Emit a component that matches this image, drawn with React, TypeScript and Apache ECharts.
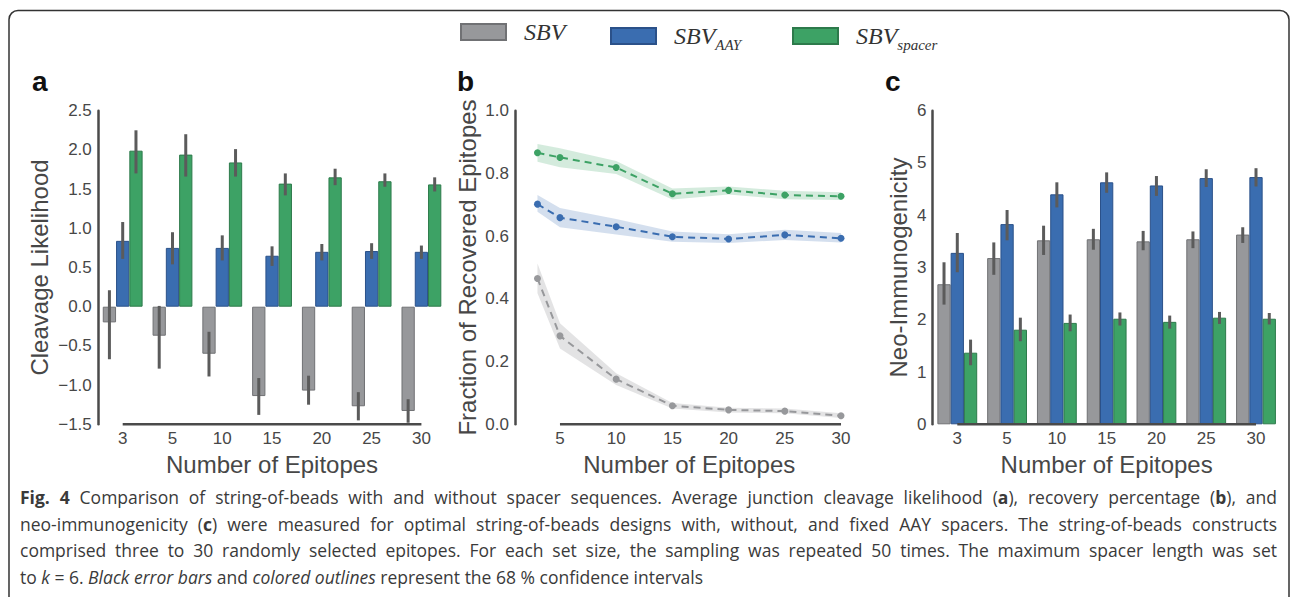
import React, { useEffect, useRef } from 'react';
import * as echarts from 'echarts';

// ---------- data ----------
const categories = ['3', '5', '10', '15', '20', '25', '30'];
const epitopeCounts = [3, 5, 10, 15, 20, 25, 30];
const seriesNames = ['SBV', 'SBV_AAY', 'SBV_spacer'];

// panel a: cleavage likelihood
const cleavSBV = [-0.20, -0.37, -0.60, -1.14, -1.07, -1.27, -1.33];
const cleavSBVLo = [-0.67, -0.79, -0.89, -1.38, -1.25, -1.45, -1.48];
const cleavSBVHi = [0.21, 0.01, -0.32, -0.91, -0.88, -1.09, -1.18];
const cleavAAY = [0.84, 0.75, 0.75, 0.65, 0.70, 0.71, 0.70];
const cleavAAYLo = [0.61, 0.54, 0.59, 0.52, 0.59, 0.61, 0.61];
const cleavAAYHi = [1.08, 0.95, 0.91, 0.77, 0.80, 0.81, 0.78];
const cleavSpacer = [1.99, 1.94, 1.84, 1.57, 1.65, 1.60, 1.56];
const cleavSpacerLo = [1.70, 1.66, 1.66, 1.42, 1.55, 1.53, 1.47];
const cleavSpacerHi = [2.25, 2.20, 2.01, 1.70, 1.76, 1.70, 1.65];

// panel b: fraction of recovered epitopes
const recSBV = [0.465, 0.282, 0.144, 0.059, 0.046, 0.042, 0.027];
const recSBVLo = [0.418, 0.242, 0.125, 0.050, 0.038, 0.035, 0.020];
const recSBVHi = [0.513, 0.322, 0.163, 0.068, 0.053, 0.050, 0.035];
const recAAY = [0.702, 0.659, 0.630, 0.598, 0.591, 0.604, 0.593];
const recAAYLo = [0.678, 0.628, 0.605, 0.582, 0.578, 0.588, 0.580];
const recAAYHi = [0.731, 0.690, 0.655, 0.615, 0.606, 0.620, 0.610];
const recSpacer = [0.866, 0.851, 0.819, 0.735, 0.746, 0.731, 0.727];
const recSpacerLo = [0.837, 0.820, 0.798, 0.717, 0.733, 0.718, 0.715];
const recSpacerHi = [0.894, 0.880, 0.840, 0.752, 0.758, 0.745, 0.740];

// panel c: neo-immunogenicity
const immSBV = [2.68, 3.18, 3.52, 3.54, 3.50, 3.54, 3.63];
const immSBVLo = [2.29, 2.86, 3.24, 3.34, 3.33, 3.37, 3.47];
const immSBVHi = [3.10, 3.48, 3.80, 3.74, 3.70, 3.69, 3.77];
const immAAY = [3.28, 3.83, 4.40, 4.63, 4.57, 4.71, 4.73];
const immAAYLo = [2.91, 3.52, 4.15, 4.43, 4.37, 4.54, 4.55];
const immAAYHi = [3.66, 4.10, 4.63, 4.82, 4.75, 4.88, 4.90];
const immSpacer = [1.37, 1.81, 1.94, 2.02, 1.96, 2.04, 2.02];
const immSpacerLo = [1.13, 1.59, 1.78, 1.89, 1.83, 1.92, 1.91];
const immSpacerHi = [1.62, 2.04, 2.10, 2.14, 2.08, 2.15, 2.13];

const captionLines = [
  '{b|Fig. 4} Comparison of string-of-beads with and without spacer sequences. Average junction cleavage likelihood ({b|a}), recovery percentage ({b|b}), and',
  'neo-immunogenicity ({b|c}) were measured for optimal string-of-beads designs with, without, and fixed AAY spacers. The string-of-beads constructs',
  'comprised three to 30 randomly selected epitopes. For each set size, the sampling was repeated 50 times. The maximum spacer length was set',
  'to {i|k} = 6. {i|Black error bars} and {i|colored outlines} represent the 68 % confidence intervals',
];
const captionJustified = [true, true, true, false];

// ---------- styles ----------
const GRAY = '#97989b';
const GRAY_EDGE = '#707174';
const BLUE = '#3a6db0';
const BLUE_EDGE = '#2b5189';
const GREEN = '#3da265';
const GREEN_EDGE = '#2d7a4b';
const AXIS = '#4a4a4a';
const LABEL = '#474747';
const ERR = '#5b5b5b';
const SANS = 'Liberation Sans, Arial, sans-serif';
const CAP_FAMILY = 'Open Sans';
const CAP_SIZE = 17.5;
const CAP_LEFT = 20;
const CAP_RIGHT = 1277;

const fills = [GRAY, BLUE, GREEN];
const edges = [GRAY_EDGE, BLUE_EDGE, GREEN_EDGE];

const GRID_TOP = 110.7;
const GRID_H = 313.6;
const GRID_W = 348.5;

function barSeries(idx: number, axis: number, data: number[]) {
  return {
    type: 'bar',
    name: seriesNames[idx],
    xAxisIndex: axis,
    yAxisIndex: axis,
    data,
    barGap: '0%',
    barCategoryGap: '20%',
    itemStyle: { color: fills[idx], borderColor: edges[idx], borderWidth: 1 },
    z: 2,
  };
}

function errSeries(idx: number, axis: number, lo: number[], hi: number[]) {
  const offset = idx - 1;
  return {
    type: 'custom',
    name: seriesNames[idx],
    xAxisIndex: axis,
    yAxisIndex: axis,
    silent: true,
    z: 5,
    data: lo.map((l, i) => [i, l, hi[i]]),
    encode: { x: 0, y: [1, 2] },
    renderItem: (params: any, api: any) => {
      const ci = api.value(0);
      const a = api.coord([ci, api.value(1)]);
      const b = api.coord([ci, api.value(2)]);
      const bw = (api.size([1, 0])[0] * 0.8) / 3;
      const x = a[0] + offset * bw;
      return {
        type: 'line',
        shape: { x1: x, y1: a[1], x2: x, y2: b[1] },
        style: { stroke: ERR, lineWidth: 3 },
      };
    },
  };
}

function spineSeries(axis: number, from: number[], to: number[]) {
  return {
    type: 'custom',
    name: 'spine',
    xAxisIndex: axis,
    yAxisIndex: axis,
    silent: true,
    z: 10,
    data: [[from[0], from[1], to[0], to[1]]],
    encode: { x: 0, y: 1 },
    renderItem: (params: any, api: any) => {
      const a = api.coord([api.value(0), api.value(1)]);
      const b = api.coord([api.value(2), api.value(3)]);
      return {
        type: 'line',
        shape: { x1: a[0], y1: a[1], x2: b[0], y2: b[1] },
        style: { stroke: AXIS, lineWidth: 2.5 },
      };
    },
  };
}

function bandSeries(idx: number, lo: number[], hi: number[], fill: string) {
  return {
    type: 'custom',
    name: seriesNames[idx],
    xAxisIndex: 1,
    yAxisIndex: 1,
    silent: true,
    z: 1,
    data: epitopeCounts.map((x, i) => [x, lo[i], hi[i]]),
    encode: { x: 0, y: [1, 2] },
    renderItem: (params: any, api: any) => {
      if (params.dataIndex !== 0) return null;
      const upper = epitopeCounts.map((x, i) => api.coord([x, hi[i]]));
      const lower = epitopeCounts.map((x, i) => api.coord([x, lo[i]])).reverse();
      return {
        type: 'polygon',
        shape: { points: upper.concat(lower) },
        style: { fill },
      };
    },
  };
}

function lineSeries(idx: number, vals: number[]) {
  return {
    type: 'line',
    name: seriesNames[idx],
    xAxisIndex: 1,
    yAxisIndex: 1,
    data: epitopeCounts.map((x, i) => [x, vals[i]]),
    symbol: 'circle',
    symbolSize: 7,
    showSymbol: true,
    lineStyle: { type: [7, 5], width: 2, color: fills[idx] },
    itemStyle: { color: fills[idx] },
    z: 3,
  };
}

const fmtDec = (v: number) => v.toFixed(1).replace('-', '\u2212');

function yAxis(gi: number, min: number, max: number, interval: number, name: string, nameGap: number, fmt: (v: number) => string) {
  return {
    type: 'value',
    gridIndex: gi,
    min,
    max,
    interval,
    name,
    nameLocation: 'middle',
    nameGap,
    nameTextStyle: { fontSize: 24, color: LABEL, fontFamily: SANS },
    axisLine: { show: true, lineStyle: { color: AXIS, width: 2.5 } },
    axisTick: { show: false },
    splitLine: { show: false },
    axisLabel: { color: LABEL, fontSize: 17, fontFamily: SANS, margin: 6, formatter: fmt },
  };
}

function catXAxis(gi: number) {
  return {
    type: 'category',
    gridIndex: gi,
    data: categories,
    name: 'Number of Epitopes',
    nameLocation: 'middle',
    nameGap: 23.5,
    nameTextStyle: { fontSize: 24, color: LABEL, fontFamily: SANS },
    axisLine: { show: false },
    axisTick: { show: false },
    splitLine: { show: false },
    axisLabel: { color: LABEL, fontSize: 17, fontFamily: SANS, margin: 6 },
  };
}

const legendRich = {
  m: {
    fontFamily: 'Liberation Serif, serif',
    fontStyle: 'italic',
    fontSize: 24,
    color: '#333',
    lineHeight: 32,
    padding: [0, 0, 0, 13],
  },
  s: {
    fontFamily: 'Liberation Serif, serif',
    fontStyle: 'italic',
    fontSize: 15,
    color: '#333',
    lineHeight: 15,
    padding: [17, 0, 0, 0],
  },
};

function legendFor(name: string, left: number) {
  return {
    data: [name],
    left,
    top: 20,
    padding: 0,
    icon: 'rect',
    itemWidth: 45,
    itemHeight: 16,
    textStyle: { rich: legendRich },
    formatter: (n: string) => {
      const parts = n.split('_');
      return parts.length > 1 ? `{m|${parts[0]}}{s|${parts[1]}}` : `{m|${parts[0]}}`;
    },
  };
}

// ---------- caption justification helpers ----------
type Run = { style: string | null; text: string };

function parseRuns(line: string): Run[] {
  const runs: Run[] = [];
  const re = /\{(\w)\|([^}]*)\}/g;
  let last = 0;
  let m: RegExpExecArray | null;
  while ((m = re.exec(line))) {
    if (m.index > last) runs.push({ style: null, text: line.slice(last, m.index) });
    runs.push({ style: m[1], text: m[2] });
    last = re.lastIndex;
  }
  if (last < line.length) runs.push({ style: null, text: line.slice(last) });
  return runs;
}

function splitWords(runs: Run[]): Run[][] {
  const words: Run[][] = [];
  let cur: Run[] = [];
  for (const r of runs) {
    const parts = r.text.split(' ');
    parts.forEach((p, k) => {
      if (k > 0) {
        if (cur.length) words.push(cur);
        cur = [];
      }
      if (p.length) cur.push({ style: r.style, text: p });
    });
  }
  if (cur.length) words.push(cur);
  return words;
}

function fontFor(style: string | null) {
  const w = style === 'b' ? 'bold ' : '';
  const s = style === 'i' ? 'italic ' : '';
  return `${s}${w}${CAP_SIZE}px "${CAP_FAMILY}"`;
}

function buildCaption(line: string, idx: number, justify: boolean, ctx: CanvasRenderingContext2D | null) {
  if (!justify || !ctx) return { text: line, gap: 0 };
  const words = splitWords(parseRuns(line));
  let total = 0;
  for (const w of words) {
    for (const r of w) {
      ctx.font = fontFor(r.style);
      total += ctx.measureText(r.text).width;
    }
  }
  const gap = (CAP_RIGHT - CAP_LEFT - total) / Math.max(1, words.length - 1);
  const text = words
    .map((w) => w.map((r) => (r.style ? `{${r.style}|${r.text}}` : r.text)).join(''))
    .join(`{g${idx}| }`);
  return { text, gap };
}

export default function App() {
  const ref = useRef<HTMLDivElement>(null);

  useEffect(() => {
    if (!ref.current) return;
    const chart = echarts.init(ref.current, null, { renderer: 'svg' });

    const canvas = document.createElement('canvas');
    const ctx = canvas.getContext('2d');

    const captionRich: any = {
      b: { fontWeight: 'bold', fontFamily: CAP_FAMILY, fontSize: CAP_SIZE, color: '#2f2f2f' },
      i: { fontStyle: 'italic', fontFamily: CAP_FAMILY, fontSize: CAP_SIZE, color: '#3a3a3a' },
    };
    const builtCaption = captionLines.map((line, i) => {
      const built = buildCaption(line, i, captionJustified[i], ctx);
      if (captionJustified[i]) {
        captionRich[`g${i}`] = { width: built.gap, fontFamily: CAP_FAMILY, fontSize: CAP_SIZE };
      }
      return built.text;
    });
    const captionY = [497, 523.5, 550, 576.5];

    const option: any = {
      animation: false,
      backgroundColor: '#ffffff',
      legend: [legendFor('SBV', 460), legendFor('SBV_AAY', 610), legendFor('SBV_spacer', 792)],
      grid: [
        { left: 97.8, top: GRID_TOP, width: GRID_W, height: GRID_H, outerBoundsMode: 'none' },
        { left: 515, top: GRID_TOP, width: GRID_W, height: GRID_H, outerBoundsMode: 'none' },
        { left: 932.4, top: GRID_TOP, width: GRID_W, height: GRID_H, outerBoundsMode: 'none' },
      ],
      xAxis: [
        catXAxis(0),
        {
          type: 'value',
          gridIndex: 1,
          min: 1,
          max: 32,
          interval: 1,
          name: 'Number of Epitopes',
          nameLocation: 'middle',
          nameGap: 23.5,
          nameTextStyle: { fontSize: 24, color: LABEL, fontFamily: SANS },
          axisLine: { show: false },
          axisTick: { show: false },
          splitLine: { show: false },
          axisLabel: {
            color: LABEL,
            fontSize: 17,
            fontFamily: SANS,
            margin: 6,
            showMinLabel: true,
            showMaxLabel: true,
            formatter: (v: number) => (v % 5 === 0 ? String(v) : ''),
          },
        },
        catXAxis(2),
      ],
      yAxis: [
        yAxis(0, -1.5, 2.5, 0.5, 'Cleavage Likelihood', 46, fmtDec),
        yAxis(1, 0, 1, 0.2, 'Fraction of Recovered Epitopes', 36, fmtDec),
        yAxis(2, 0, 6, 1, 'Neo-Immunogenicity', 22, (v: number) => String(v)),
      ],
      series: [
        barSeries(0, 0, cleavSBV),
        barSeries(1, 0, cleavAAY),
        barSeries(2, 0, cleavSpacer),
        errSeries(0, 0, cleavSBVLo, cleavSBVHi),
        errSeries(1, 0, cleavAAYLo, cleavAAYHi),
        errSeries(2, 0, cleavSpacerLo, cleavSpacerHi),
        spineSeries(0, [0, -1.5], [categories.length - 1, -1.5]),

        bandSeries(0, recSBVLo, recSBVHi, 'rgba(150,152,155,0.27)'),
        bandSeries(1, recAAYLo, recAAYHi, 'rgba(58,109,176,0.22)'),
        bandSeries(2, recSpacerLo, recSpacerHi, 'rgba(61,162,101,0.22)'),
        lineSeries(0, recSBV),
        lineSeries(1, recAAY),
        lineSeries(2, recSpacer),
        spineSeries(1, [5, 0], [30, 0]),

        barSeries(0, 2, immSBV),
        barSeries(1, 2, immAAY),
        barSeries(2, 2, immSpacer),
        errSeries(0, 2, immSBVLo, immSBVHi),
        errSeries(1, 2, immAAYLo, immAAYHi),
        errSeries(2, 2, immSpacerLo, immSpacerHi),
        spineSeries(2, [0, 0], [categories.length - 1, 0]),
      ],
      graphic: [
        {
          type: 'rect',
          z: -1,
          silent: true,
          shape: { x: 9, y: 10.5, width: 1280, height: 640, r: 9 },
          style: { fill: 'none', stroke: '#333', lineWidth: 1.5 },
        },
        ...[['a', 32], ['b', 457], ['c', 885]].map(([t, x]) => ({
          type: 'text',
          silent: true,
          style: {
            text: t,
            x,
            y: 81,
            fill: '#111',
            fontFamily: SANS,
            fontWeight: 'bold',
            fontSize: 28,
            verticalAlign: 'middle',
          },
        })),
        ...builtCaption.map((line, i) => ({
          type: 'text',
          silent: true,
          style: {
            text: line,
            x: CAP_LEFT,
            y: captionY[i],
            fill: '#3a3a3a',
            fontFamily: CAP_FAMILY,
            fontSize: CAP_SIZE,
            verticalAlign: 'middle',
            rich: captionRich,
          },
        })),
      ],
    };

    chart.setOption(option);
    return () => chart.dispose();
  }, []);

  return (
    <div
      ref={ref}
      style={{ position: 'absolute', left: 0, top: 0, width: 1290, height: 597, background: '#fff' }}
    />
  );
}
